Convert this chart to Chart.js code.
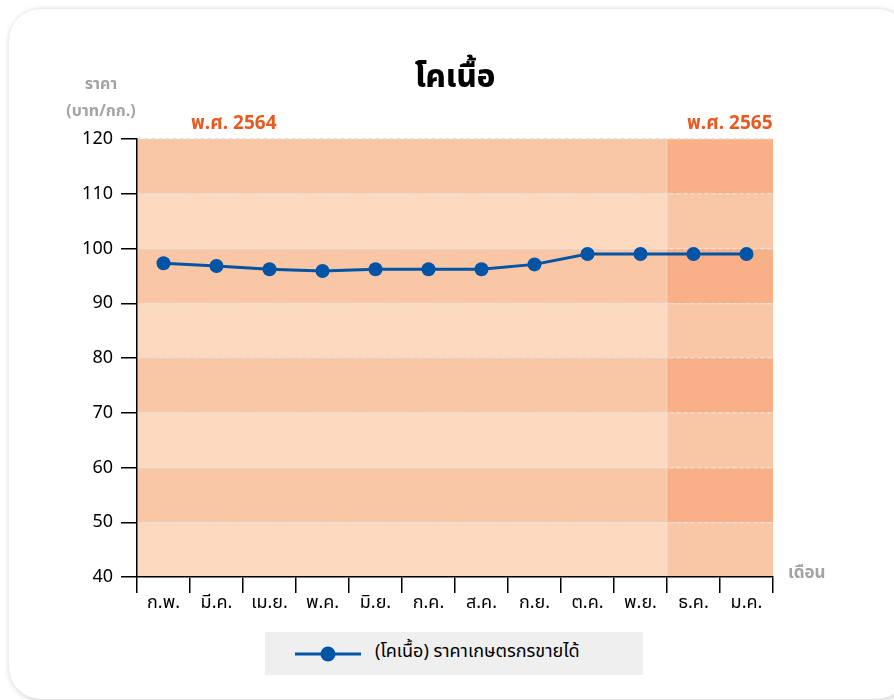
<!DOCTYPE html>
<html lang="th">
<head>
  <meta charset="UTF-8" />
  <title>โคเนื้อ</title>
  <script src="https://cdn.jsdelivr.net/npm/chart.js"></script>
  <style>
    html, body { margin: 0; padding: 0; background: #fff; }
    body { width: 894px; height: 700px; position: relative; overflow: hidden;
           font-family: "Noto Sans Thai", "Noto Sans", "DejaVu Sans", sans-serif; }
    .card { position: absolute; left: 9px; top: 9px; width: 900px; height: 690px;
            background: #fff; border-radius: 32px;
            box-shadow: 1px 1px 6px rgba(0,0,0,0.22); }
    #wrap { position: absolute; left: 0; top: 0; width: 894px; height: 700px; }
    .lbl { position: absolute; white-space: nowrap; line-height: 1; }
    .title { left: 355px; width: 200px; text-align: center; top: 62px; font-size: 31px; font-weight: 800; color: #000; }
    .ytitle { left: 50px; width: 102px; text-align: center; font-size: 16px; font-weight: 700; color: #a3a3a3; }
    .year { top: 114px; font-size: 19px; font-weight: 700; color: #e85a22; }
    .xtitle { left: 788px; top: 565px; font-size: 17px; font-weight: 700; color: #a3a3a3; }
    .legend { position: absolute; left: 265px; top: 632px; width: 378px; height: 43px; background: #efefef; }
    .legend canvas { position: absolute; left: 30px; top: 13px; }
    .legend span { position: absolute; left: 110px; top: 9px; font-size: 18px; color: #000; white-space: nowrap; line-height: 1.2; }
  </style>
</head>
<body>
  <div class="card"></div>
  <div id="wrap"><canvas id="graphe" width="894" height="700"></canvas></div>

  <div class="lbl title">โคเนื้อ</div>
  <div class="lbl ytitle" style="top:76px">ราคา</div>
  <div class="lbl ytitle" style="top:103px">(บาท/กก.)</div>
  <div class="lbl year" style="left:191px">พ.ศ. 2564</div>
  <div class="lbl year" style="left:687px">พ.ศ. 2565</div>
  <div class="lbl xtitle">เดือน</div>
  <div class="legend"><canvas id="marker" width="68" height="18"></canvas><span id="legendText"></span></div>

<script>
  // donnees
  const months = ['ก.พ.', 'มี.ค.', 'เม.ย.', 'พ.ค.', 'มิ.ย.', 'ก.ค.', 'ส.ค.', 'ก.ย.', 'ต.ค.', 'พ.ย.', 'ธ.ค.', 'ม.ค.'];
  const prices = [97.3, 96.8, 96.2, 95.9, 96.2, 96.2, 96.2, 97.1, 99, 99, 99, 99];
  const seriesName = '(โคเนื้อ) ราคาเกษตรกรขายได้';
  const yTicks = [40, 50, 60, 70, 80, 90, 100, 110, 120];
  const highlightFrom = 10; // ธ.ค. -> fin

  const lineColor = '#0054a6';

  // bandes de fond alternees + colonnes plus foncees
  const bandsPlugin = {
    id: 'bands',
    beforeDraw(chart) {
      const { ctx, chartArea, scales } = chart;
      const x = scales.x, y = scales.y;
      const half = (x.getPixelForValue(1) - x.getPixelForValue(0)) / 2;
      const hx = x.getPixelForValue(highlightFrom) - half;
      ctx.save();
      for (let i = 0; i < yTicks.length - 1; i++) {
        const top = y.getPixelForValue(yTicks[i + 1]);
        const bot = y.getPixelForValue(yTicks[i]);
        const dark = (yTicks.length - 2 - i) % 2 === 0;
        ctx.fillStyle = dark ? '#fac7a6' : '#fcd9bf';
        ctx.fillRect(chartArea.left, top, hx - chartArea.left, bot - top);
        ctx.fillStyle = dark ? '#f9b087' : '#fac7a6';
        ctx.fillRect(hx, top, chartArea.right - hx, bot - top);
      }
      ctx.fillStyle = 'rgba(255,255,255,0.35)';
      ctx.fillRect(hx - 0.5, chartArea.top, 1, chartArea.bottom - chartArea.top);
      ctx.restore();
    }
  };

  document.addEventListener('DOMContentLoaded', function () {
    const ctx = document.getElementById('graphe').getContext('2d');
    new Chart(ctx, {
      type: 'line',
      data: {
        labels: months,
        datasets: [{
          label: seriesName,
          data: prices,
          borderColor: lineColor,
          backgroundColor: lineColor,
          borderWidth: 3,
          pointRadius: 7,
          pointHoverRadius: 7,
          pointBackgroundColor: lineColor,
          pointBorderWidth: 0,
          tension: 0
        }]
      },
      options: {
        responsive: false,
        animation: false,
        layout: { padding: { left: 0, top: 139, right: 121, bottom: 83 } },
        plugins: { legend: { display: false }, tooltip: { enabled: false } },
        scales: {
          x: {
            offset: true,
            grid: { offset: true, drawOnChartArea: false, color: '#000', tickColor: '#000', tickLength: 16, lineWidth: 1.5 },
            border: { color: '#000', width: 1.5 },
            ticks: { color: '#000', font: { family: '"Noto Sans Thai", "Noto Sans", sans-serif', size: 18 }, padding: 1, maxRotation: 0, autoSkip: false },
            afterFit(s) { s.height = 40; }
          },
          y: {
            min: yTicks[0],
            max: yTicks[yTicks.length - 1],
            ticks: { stepSize: 10, color: '#000', font: { family: '"Noto Sans", sans-serif', size: 18 }, padding: 8 },
            grid: { color: 'rgba(228,226,224,0.95)', tickColor: '#000', tickLength: 16, tickBorderDash: [], lineWidth: 1.5 },
            border: { color: '#000', width: 1.5, dash: [4, 3] },
            afterFit(s) { s.width = 137; }
          }
        }
      },
      plugins: [bandsPlugin]
    });

    // petit symbole de legende
    document.getElementById('legendText').textContent = seriesName;
    const m = document.getElementById('marker').getContext('2d');
    m.strokeStyle = lineColor;
    m.lineWidth = 3;
    m.beginPath(); m.moveTo(0, 9); m.lineTo(66, 9); m.stroke();
    m.fillStyle = lineColor;
    m.beginPath(); m.arc(33, 9, 7.5, 0, Math.PI * 2); m.fill();
  });
</script>
</body>
</html>
